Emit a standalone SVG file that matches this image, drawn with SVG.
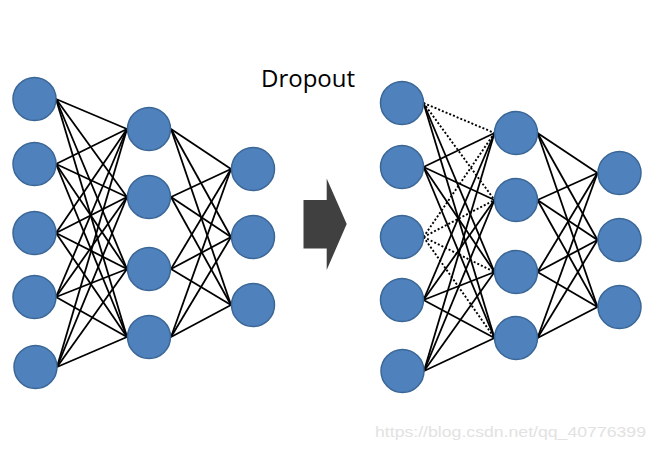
<svg xmlns="http://www.w3.org/2000/svg" width="657" height="449" viewBox="0 0 657 449">
<style>
.n{fill:#4F81BD;stroke:#3B6797;stroke-width:1.5}
.e line{stroke:#000;stroke-width:1.8}
.e line.d{stroke-dasharray:2 2;stroke-width:1.9}
.t{font-family:"Open Sans","Noto Sans",sans-serif;font-size:24px;fill:#000}
.w{font-family:"Liberation Sans",Arial,sans-serif;font-size:14px;fill:#e2e2e2}
</style>
<rect width="657" height="449" fill="#fff"/>
<g id="connectors" class="e">
<line x1="56" y1="99" x2="127" y2="129"/><line x1="56" y1="99" x2="127" y2="197"/><line x1="56" y1="99" x2="127" y2="269"/><line x1="56" y1="99" x2="127" y2="337"/>
<line x1="56" y1="164" x2="127" y2="129"/><line x1="56" y1="164" x2="127" y2="197"/><line x1="56" y1="164" x2="127" y2="269"/><line x1="56" y1="164" x2="127" y2="337"/>
<line x1="56" y1="233" x2="127" y2="129"/><line x1="56" y1="233" x2="127" y2="197"/><line x1="56" y1="233" x2="127" y2="269"/><line x1="56" y1="233" x2="127" y2="337"/>
<line x1="56" y1="297" x2="127" y2="129"/><line x1="56" y1="297" x2="127" y2="197"/><line x1="56" y1="297" x2="127" y2="269"/><line x1="56" y1="297" x2="127" y2="337"/>
<line x1="57" y1="367" x2="127" y2="129"/><line x1="57" y1="367" x2="127" y2="197"/><line x1="57" y1="367" x2="127" y2="269"/><line x1="57" y1="367" x2="127" y2="337"/>
<line x1="171" y1="129" x2="231" y2="169"/><line x1="171" y1="129" x2="231" y2="237"/><line x1="171" y1="129" x2="231" y2="305"/>
<line x1="171" y1="197" x2="231" y2="169"/><line x1="171" y1="197" x2="231" y2="237"/><line x1="171" y1="197" x2="231" y2="305"/>
<line x1="171" y1="269" x2="231" y2="169"/><line x1="171" y1="269" x2="231" y2="237"/><line x1="171" y1="269" x2="231" y2="305"/>
<line x1="171" y1="337" x2="231" y2="169"/><line x1="171" y1="337" x2="231" y2="237"/><line x1="171" y1="337" x2="231" y2="305"/>
<line class="d" x1="423.5" y1="103" x2="494.5" y2="133"/><line class="d" x1="423.5" y1="103" x2="494.5" y2="200"/><line x1="423.5" y1="103" x2="494.5" y2="272"/><line x1="423.5" y1="103" x2="494.5" y2="338"/>
<line x1="423.5" y1="167" x2="494.5" y2="133"/><line x1="423.5" y1="167" x2="494.5" y2="200"/><line x1="423.5" y1="167" x2="494.5" y2="272"/><line x1="423.5" y1="167" x2="494.5" y2="338"/>
<line class="d" x1="423.5" y1="237" x2="494.5" y2="133"/><line class="d" x1="423.5" y1="237" x2="494.5" y2="200"/><line class="d" x1="423.5" y1="237" x2="494.5" y2="272"/><line class="d" x1="423.5" y1="237" x2="494.5" y2="338"/>
<line x1="423.5" y1="300" x2="494.5" y2="133"/><line x1="423.5" y1="300" x2="494.5" y2="200"/><line x1="423.5" y1="300" x2="494.5" y2="272"/><line x1="423.5" y1="300" x2="494.5" y2="338"/>
<line x1="424" y1="371" x2="494.5" y2="133"/><line x1="424" y1="371" x2="494.5" y2="200"/><line x1="424" y1="371" x2="494.5" y2="272"/><line x1="424" y1="371" x2="494.5" y2="338"/>
<line x1="537.5" y1="133" x2="597.5" y2="173"/><line x1="537.5" y1="133" x2="597.5" y2="240"/><line x1="537.5" y1="133" x2="597.5" y2="307"/>
<line x1="537.5" y1="200" x2="597.5" y2="173"/><line x1="537.5" y1="200" x2="597.5" y2="240"/><line x1="537.5" y1="200" x2="597.5" y2="307"/>
<line x1="537.5" y1="272" x2="597.5" y2="173"/><line x1="537.5" y1="272" x2="597.5" y2="240"/><line x1="537.5" y1="272" x2="597.5" y2="307"/>
<line x1="537.5" y1="338" x2="597.5" y2="173"/><line x1="537.5" y1="338" x2="597.5" y2="240"/><line x1="537.5" y1="338" x2="597.5" y2="307"/>
</g>
<g id="a_in1"><circle class="n" cx="34.5" cy="99" r="21.5"/></g>
<g id="a_in2"><circle class="n" cx="34.5" cy="164" r="21.5"/></g>
<g id="a_in3"><circle class="n" cx="34.5" cy="233" r="21.5"/></g>
<g id="a_in4"><circle class="n" cx="34.5" cy="297" r="21.5"/></g>
<g id="a_in5"><circle class="n" cx="35.5" cy="367" r="21.5"/></g>
<g id="a_h1"><circle class="n" cx="149" cy="129" r="21.5"/></g>
<g id="a_h2"><circle class="n" cx="149" cy="197" r="21.5"/></g>
<g id="a_h3"><circle class="n" cx="149" cy="269" r="21.5"/></g>
<g id="a_h4"><circle class="n" cx="149" cy="337" r="21.5"/></g>
<g id="a_o1"><circle class="n" cx="253" cy="169" r="21.5"/></g>
<g id="a_o2"><circle class="n" cx="253" cy="237" r="21.5"/></g>
<g id="a_o3"><circle class="n" cx="253" cy="305" r="21.5"/></g>
<g id="b_in1"><circle class="n" cx="402" cy="103" r="21.5"/></g>
<g id="b_in2"><circle class="n" cx="402" cy="167" r="21.5"/></g>
<g id="b_in3"><circle class="n" cx="402" cy="237" r="21.5"/></g>
<g id="b_in4"><circle class="n" cx="402" cy="300" r="21.5"/></g>
<g id="b_in5"><circle class="n" cx="402.5" cy="371" r="21.5"/></g>
<g id="b_h1"><circle class="n" cx="516" cy="133" r="21.5"/></g>
<g id="b_h2"><circle class="n" cx="516" cy="200" r="21.5"/></g>
<g id="b_h3"><circle class="n" cx="516" cy="272" r="21.5"/></g>
<g id="b_h4"><circle class="n" cx="516" cy="338" r="21.5"/></g>
<g id="b_o1"><circle class="n" cx="619.5" cy="173" r="21.5"/></g>
<g id="b_o2"><circle class="n" cx="619.5" cy="240" r="21.5"/></g>
<g id="b_o3"><circle class="n" cx="619.5" cy="307" r="21.5"/></g>
<g id="arrow"><polygon points="303.5,200 326.7,200 326.7,178.5 346.7,224 326.7,270 326.7,248.5 303.5,248.5" fill="#404040"/></g>
<g id="title"><text class="t" x="261" y="87">Dropout</text></g>
<g id="watermark"><text class="w" x="375" y="437" textLength="271" lengthAdjust="spacingAndGlyphs">https://blog.csdn.net/qq_40776399</text></g>
</svg>
